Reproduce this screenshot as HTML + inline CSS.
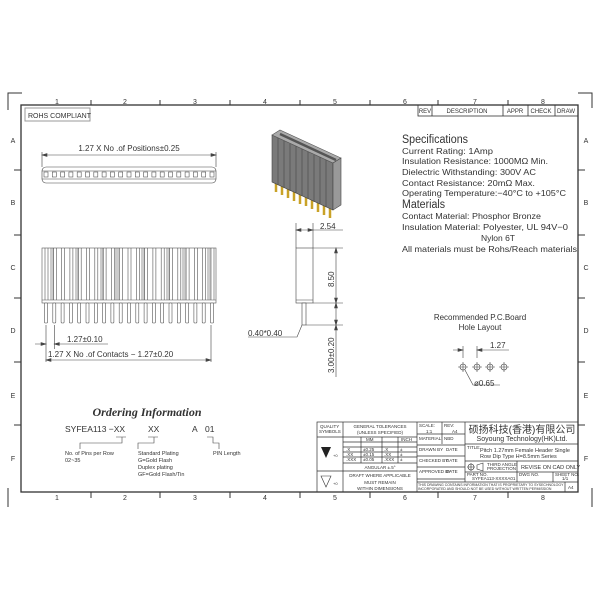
<!DOCTYPE html>
<html><head><meta charset="utf-8"><style>
html,body{margin:0;padding:0;background:#fff;}
svg{display:block;}
text{font-family:"Liberation Sans","Noto Sans CJK SC",sans-serif;fill:#333;}
</style></head><body>
<svg width="600" height="600" viewBox="0 0 600 600" xmlns="http://www.w3.org/2000/svg">
<rect width="600" height="600" fill="#fff"/>
<g stroke="#333" fill="none" stroke-width="1">
<path d="M8 110 V93 H22"/>
<path d="M578 93 H592 V108"/>
<path d="M8 488 V507"/>
<path d="M592 488 V507"/>
<rect x="21" y="105" width="557" height="387" stroke-width="1.3"/>
<path d="M91 100v5M160 100v5M230 100v5M300 100v5M370 100v5M438 100v5M508 100v5"/>
<path d="M91 492v6M160 492v6M230 492v6M300 492v6M370 492v6M438 492v6M508 492v6"/>
<path d="M14 170h7M14 235h7M14 298h7M14 362h7M14 425h7"/>
<path d="M578 170h7M578 235h7M578 298h7M578 362h7M578 425h7"/>
</g>
<g font-size="7" text-anchor="middle">
<text x="57" y="104">1</text><text x="125" y="104">2</text><text x="195" y="104">3</text><text x="265" y="104">4</text><text x="335" y="104">5</text><text x="405" y="104">6</text><text x="475" y="104">7</text><text x="543" y="104">8</text>
<text x="57" y="500">1</text><text x="125" y="500">2</text><text x="195" y="500">3</text><text x="265" y="500">4</text><text x="335" y="500">5</text><text x="405" y="500">6</text><text x="475" y="500">7</text><text x="543" y="500">8</text>
<text x="13" y="143">A</text><text x="13" y="205">B</text><text x="13" y="270">C</text><text x="13" y="333">D</text><text x="13" y="398">E</text><text x="13" y="461">F</text>
<text x="586" y="143">A</text><text x="586" y="205">B</text><text x="586" y="270">C</text><text x="586" y="333">D</text><text x="586" y="398">E</text><text x="586" y="461">F</text>
</g>
<g stroke="#333" fill="none" stroke-width="0.8">
<rect x="418" y="105" width="160" height="11"/>
<path d="M432 105v11M503 105v11M528 105v11M555 105v11"/>
</g>
<g font-size="6" text-anchor="middle">
<text x="425" y="113">REV</text><text x="467" y="113">DESCRIPTION</text><text x="515" y="113">APPR</text><text x="541" y="113">CHECK</text><text x="566" y="113">DRAW</text>
</g>
<rect x="25" y="108" width="65" height="13" fill="none" stroke="#999" stroke-width="1"/>
<text x="28" y="118" font-size="7" fill="#777">ROHS COMPLIANT</text>
<g stroke="#444" fill="none" stroke-width="0.6">
<path d="M42 152v15M216 152v15M42 155H216"/>
<path d="M42 155l5-1.5v3zM216 155l-5-1.5v3z" fill="#444"/>
<rect x="42" y="167" width="174" height="16" rx="4"/>
<path d="M42 171H216M42 179H216"/>
</g>
<g fill="none" stroke="#555" stroke-width="0.6">
<rect x="44" y="172" width="4" height="5"/><rect x="52.3" y="172" width="4" height="5"/><rect x="60.6" y="172" width="4" height="5"/><rect x="68.9" y="172" width="4" height="5"/><rect x="77.2" y="172" width="4" height="5"/><rect x="85.5" y="172" width="4" height="5"/><rect x="93.8" y="172" width="4" height="5"/><rect x="102.1" y="172" width="4" height="5"/><rect x="110.4" y="172" width="4" height="5"/><rect x="118.7" y="172" width="4" height="5"/><rect x="127" y="172" width="4" height="5"/><rect x="135.3" y="172" width="4" height="5"/><rect x="143.6" y="172" width="4" height="5"/><rect x="151.9" y="172" width="4" height="5"/><rect x="160.2" y="172" width="4" height="5"/><rect x="168.5" y="172" width="4" height="5"/><rect x="176.8" y="172" width="4" height="5"/><rect x="185.1" y="172" width="4" height="5"/><rect x="193.4" y="172" width="4" height="5"/><rect x="201.7" y="172" width="4" height="5"/><rect x="210" y="172" width="4" height="5"/>
</g>
<text x="129" y="151" font-size="8" text-anchor="middle">1.27 X No .of Positions±0.25</text>
<!-- 3D connector -->
<g>
<g stroke="#c9a227" stroke-width="2.5">
<path d="M276 182v10M282 185v10M288 188v10M294 191v10M300 194v10M306 196v10M312 199v10M318 202v10M324 205v10M330 207v11"/>
</g>
<polygon points="272,135 333,163 333,210 272,182" fill="#7a7a7a" stroke="#444" stroke-width="0.6"/>
<polygon points="272,135 280,130 341,158 333,163" fill="#aaa" stroke="#555" stroke-width="0.6"/>
<polygon points="333,163 341,158 341,205 333,210" fill="#999" stroke="#444" stroke-width="0.6"/>
<g stroke="#444" stroke-width="0.6">
<path d="M278 138v47M284 141v47M290 144v47M296 146v47M302 149v47M308 152v47M314 155v47M320 157v47M326 160v47"/>
</g>
<path d="M280 134l56 26" stroke="#555" stroke-width="2.5"/>
</g>
<!-- specs -->
<g font-size="8.5">
<text x="402" y="143" font-size="11.5" textLength="66" lengthAdjust="spacingAndGlyphs">Specifications</text>
<text x="402" y="154" textLength="91" lengthAdjust="spacingAndGlyphs">Current Rating:  1Amp</text>
<text x="402" y="164" textLength="146" lengthAdjust="spacingAndGlyphs">Insulation Resistance:  1000MΩ Min.</text>
<text x="402" y="175" textLength="134" lengthAdjust="spacingAndGlyphs">Dielectric Withstanding:  300V AC</text>
<text x="402" y="186" textLength="133" lengthAdjust="spacingAndGlyphs">Contact Resistance:  20mΩ Max.</text>
<text x="402" y="196" textLength="164" lengthAdjust="spacingAndGlyphs">Operating Temperature:−40°C to +105°C</text>
<text x="402" y="208" font-size="11.5" textLength="43" lengthAdjust="spacingAndGlyphs">Materials</text>
<text x="402" y="219" textLength="139" lengthAdjust="spacingAndGlyphs">Contact Material: Phosphor Bronze</text>
<text x="402" y="230" textLength="166" lengthAdjust="spacingAndGlyphs">Insulation Material: Polyester, UL 94V−0</text>
<text x="481" y="241" textLength="34" lengthAdjust="spacingAndGlyphs">Nylon 6T</text>
<text x="402" y="252" textLength="175" lengthAdjust="spacingAndGlyphs">All materials must be Rohs/Reach materials</text>
</g>
<!-- front view -->
<g stroke="#555" stroke-width="0.6">
<g fill="#ccc" stroke="none">
<rect x="50" y="248" width="4" height="52"/><rect x="75" y="248" width="4" height="52"/><rect x="100" y="248" width="4" height="52"/><rect x="115" y="248" width="4" height="52"/><rect x="141" y="248" width="4" height="52"/><rect x="166" y="248" width="4" height="52"/><rect x="182" y="248" width="4" height="52"/><rect x="207" y="248" width="4" height="52"/>
</g>
<rect x="42" y="248" width="174" height="55" fill="none"/>
<path d="M42 300H216"/>
<path d="M45 248v52M48 248v52M53.3 248v52M56.3 248v52M61.6 248v52M64.6 248v52M69.9 248v52M72.9 248v52M78.2 248v52M81.2 248v52M86.5 248v52M89.5 248v52M94.8 248v52M97.8 248v52M103.1 248v52M106.1 248v52M111.4 248v52M114.4 248v52M119.7 248v52M122.7 248v52M128 248v52M131 248v52M136.3 248v52M139.3 248v52M144.6 248v52M147.6 248v52M152.9 248v52M155.9 248v52M161.2 248v52M164.2 248v52M169.5 248v52M172.5 248v52M177.8 248v52M180.8 248v52M186.1 248v52M189.1 248v52M194.4 248v52M197.4 248v52M202.7 248v52M205.7 248v52M211 248v52M214 248v52"/>
<g fill="#fff">
<rect x="44.5" y="303" width="3" height="20" rx="1"/><rect x="52.8" y="303" width="3" height="20" rx="1"/><rect x="61.1" y="303" width="3" height="20" rx="1"/><rect x="69.4" y="303" width="3" height="20" rx="1"/><rect x="77.7" y="303" width="3" height="20" rx="1"/><rect x="86" y="303" width="3" height="20" rx="1"/><rect x="94.3" y="303" width="3" height="20" rx="1"/><rect x="102.6" y="303" width="3" height="20" rx="1"/><rect x="110.9" y="303" width="3" height="20" rx="1"/><rect x="119.2" y="303" width="3" height="20" rx="1"/><rect x="127.5" y="303" width="3" height="20" rx="1"/><rect x="135.8" y="303" width="3" height="20" rx="1"/><rect x="144.1" y="303" width="3" height="20" rx="1"/><rect x="152.4" y="303" width="3" height="20" rx="1"/><rect x="160.7" y="303" width="3" height="20" rx="1"/><rect x="169" y="303" width="3" height="20" rx="1"/><rect x="177.3" y="303" width="3" height="20" rx="1"/><rect x="185.6" y="303" width="3" height="20" rx="1"/><rect x="193.9" y="303" width="3" height="20" rx="1"/><rect x="202.2" y="303" width="3" height="20" rx="1"/><rect x="210.5" y="303" width="3" height="20" rx="1"/>
</g>
</g>
<g stroke="#444" stroke-width="0.6" fill="none">
<path d="M46 325v37M54.3 325v24M211 325v37"/>
<path d="M35 344H46M54.3 344H108"/>
<path d="M46 360H211"/>
<path d="M46 344l-5-1.5v3zM54.3 344l5-1.5v3zM46 360l5-1.5v3zM211 360l-5-1.5v3z" fill="#444"/>
</g>
<text x="67" y="342" font-size="8">1.27±0.10</text>
<text x="48" y="357" font-size="8">1.27 X No .of Contacts − 1.27±0.20</text>
<!-- side view -->
<g stroke="#444" stroke-width="0.6" fill="none">
<rect x="296" y="248" width="17" height="55"/>
<path d="M296 300h17"/>
<rect x="302" y="303" width="4" height="22" fill="#fff"/>
<path d="M296 223v25M313 223v25M296 230h17M313 230h30"/>
<path d="M296 230l5-1.5v3zM313 230l-5-1.5v3z" fill="#444"/>
<path d="M313 248h30M313 303h30M306 325h37M336 248v77M336 325v52"/>
<path d="M336 248l-1.5 5h3zM336 303l-1.5-5h3zM336 303l-1.5 5h3zM336 325l-1.5-5h3zM336 325l-1.5 5h3z" fill="#444"/>
<path d="M248 337H297l5-12"/>
</g>
<text x="320" y="229" font-size="8">2.54</text>
<text x="248" y="336" font-size="8">0.40*0.40</text>
<text x="0" y="0" font-size="8" transform="translate(334 287) rotate(-90)">8.50</text>
<text x="0" y="0" font-size="8" transform="translate(334 373) rotate(-90)">3.00±0.20</text>
<!-- PCB -->
<text x="480" y="320" font-size="8" text-anchor="middle">Recommended P.C.Board</text>
<text x="480" y="330" font-size="8" text-anchor="middle">Hole Layout</text>
<g stroke="#444" stroke-width="0.6" fill="none">
<circle cx="463" cy="367" r="3"/><circle cx="477" cy="367" r="3"/><circle cx="490" cy="367" r="3"/><circle cx="504" cy="367" r="3"/>
<path d="M458 367h10M463 362v10M472 367h10M477 362v10M485 367h10M490 362v10M499 367h10M504 362v10"/>
<path d="M463 346v12M477 346v12M453 350h10M477 350h32M465 370l8 15h27"/>
<path d="M463 350l-5-1.5v3zM477 350l5-1.5v3z" fill="#444"/>
</g>
<text x="490" y="348" font-size="8">1.27</text>
<text x="474" y="386" font-size="8">ø0.65</text>
<!-- Ordering -->
<text x="147" y="416" font-size="12" font-weight="bold" font-style="italic" text-anchor="middle" style="font-family:'Liberation Serif',serif">Ordering Information</text>
<g font-size="8.5"><text x="65" y="432">SYFEA113 −XX</text><text x="148" y="432">XX</text><text x="192" y="432">A</text><text x="205" y="432">01</text></g>
<g stroke="#444" stroke-width="0.6" fill="none">
<path d="M80 449v-6h42v-6M116 437h10M138 449v-6h16v-6M148 437h10M207 437h6v6h6v6"/>
</g>
<g font-size="5.5">
<text x="65" y="455">No. of Pins per Row</text><text x="65" y="462">02~35</text>
<text x="138" y="455">Standard Plating</text><text x="138" y="462">G=Gold Flash</text><text x="138" y="469">Duplex plating</text><text x="138" y="476">GF=Gold Flash/Tin</text>
<text x="213" y="455">PIN Length</text>
</g>
<!-- title block -->
<g stroke="#333" stroke-width="0.7" fill="none">
<rect x="317" y="422" width="261" height="70"/>
<path d="M343 422v70M417 422v70M465 422v60M442 422v22"/>
<path d="M317 437h26M317 471h26M343 437h74M343 442h74M343 447h74M343 452h74M343 457h74M343 463h74M343 471h74"/>
<path d="M361 437v26M382 437v26M398 437v26"/>
<path d="M417 434h48M417 445h48M417 456h48M417 467h48M417 479h48M417 482h161M465 444h113M465 461h113M465 472h113M517 461v21M553 472v10M565 482v10"/>
</g>
<g font-size="4.5">
<text x="320" y="428">QUALITY</text><text x="319" y="433">SYMBOLS</text>
<text x="380" y="428" text-anchor="middle">GENERAL TOLERANCES</text><text x="380" y="434" text-anchor="middle">(UNLESS SPECIFIED)</text>
<text x="366" y="441">MM</text><text x="401" y="441">INCH</text>
<text x="346" y="451">.X</text><text x="363" y="451">±0.25</text><text x="384" y="451">.X</text><text x="400" y="451">±</text>
<text x="346" y="456">.XX</text><text x="363" y="456">±0.15</text><text x="384" y="456">.XX</text><text x="400" y="456">±</text>
<text x="346" y="461">.XXX</text><text x="363" y="461">±0.05</text><text x="384" y="461">.XXX</text><text x="400" y="461">±</text>
<text x="380" y="469" text-anchor="middle">ANGULAR ±.5°</text>
<text x="380" y="477" text-anchor="middle">DRAFT WHERE APPLICABLE</text>
<text x="380" y="484" text-anchor="middle">MUST REMAIN</text>
<text x="380" y="490" text-anchor="middle">WITHIN DIMENSIONS</text>
<text x="419" y="427">SCALE:</text><text x="426" y="433">1:1</text><text x="444" y="427">REV:</text><text x="452" y="433">A4</text>
<text x="419" y="440">MATERIAL:</text><text x="444" y="440">NBD</text>
<text x="419" y="451">DRAWN BY</text><text x="446" y="451">DATE</text>
<text x="419" y="462">CHECKED BY</text><text x="446" y="462">DATE</text>
<text x="419" y="473">APPROVED BY</text><text x="446" y="473">DATE</text>
<text x="418" y="486" font-size="3.5">THIS DRAWING CONTAINS INFORMATION THAT IS PROPRIETARY TO SYSECHNOLOGY</text>
<text x="418" y="490" font-size="3.5">INCORPORATED AND SHOULD NOT BE USED WITHOUT WRITTEN PERMISSION</text>
<text x="467" y="449">TITLE:</text>
<text x="480" y="452" font-size="5.5">Pitch 1.27mm Female Header Single</text>
<text x="480" y="458" font-size="5.5">Row Dip Type H=8.5mm Series</text>
<text x="487" y="466">THIRD ANGLE</text><text x="487" y="470">PROJECTION</text>
<text x="521" y="469" font-size="5.5">REVISE ON CAD ONLY</text>
<text x="467" y="476">PART NO.</text><text x="472" y="480">SYFEA113-XXXXA01</text>
<text x="519" y="476">DWG NO.</text>
<text x="555" y="476">SHEET NO.</text><text x="562" y="480">1/1</text>
<text x="568" y="489">A4</text>
</g>
<text x="522" y="433" font-size="10" text-anchor="middle" fill="#444">硕扬科技(香港)有限公司</text>
<text x="522" y="441" font-size="7" text-anchor="middle">Soyoung Technology(HK)Ltd.</text>
<polygon points="321,447 331,447 326,458" fill="#222"/>
<text x="333" y="457" font-size="4">+0</text>
<polygon points="321,476 331,476 326,487" fill="none" stroke="#333" stroke-width="0.6"/>
<text x="333" y="485" font-size="4">+0</text>
<g stroke="#333" stroke-width="0.6" fill="none"><circle cx="471" cy="467" r="3"/><path d="M467 467h8M471 463v8M477 465l6-2v8l-6-2z"/></g>
</svg>
</body></html>
